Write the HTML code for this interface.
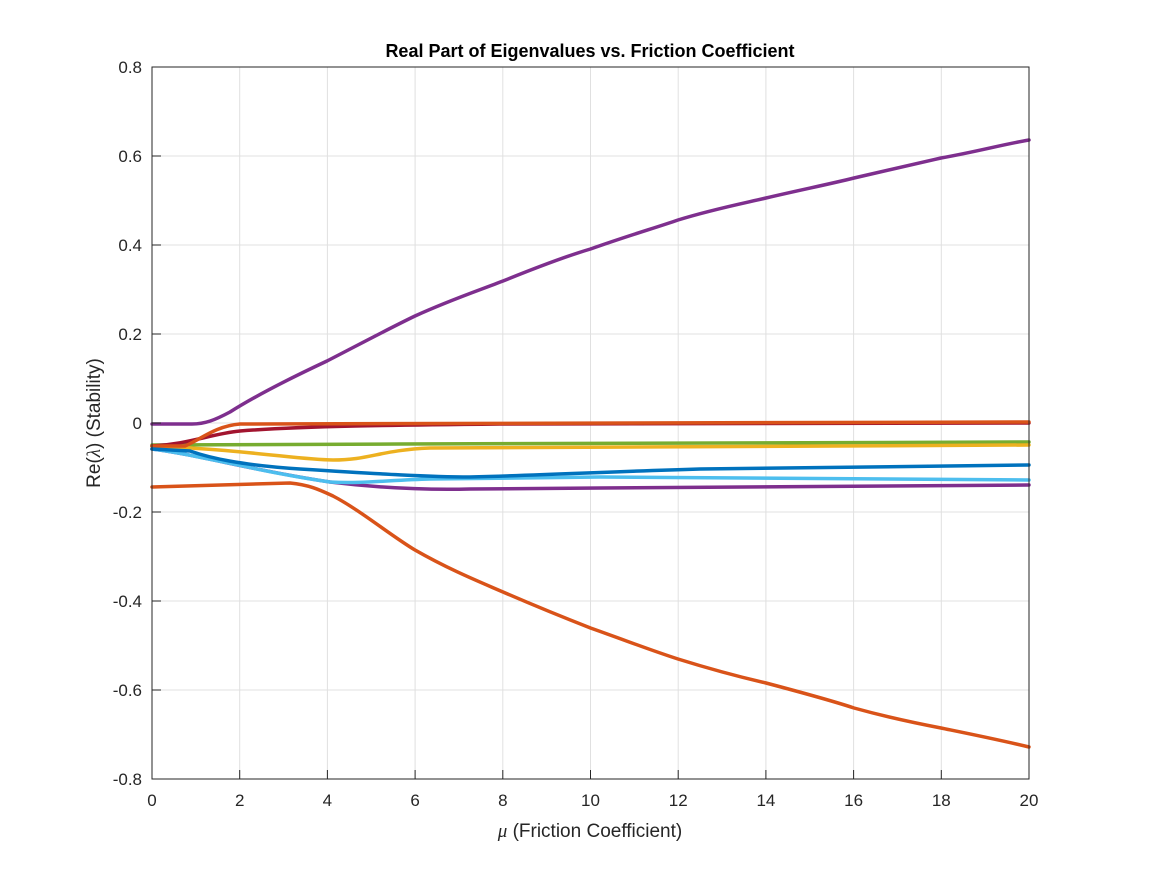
<!DOCTYPE html>
<html><head><meta charset="utf-8"><style>body{margin:0;background:#fff}</style></head><body>
<svg width="1167" height="875" xmlns="http://www.w3.org/2000/svg" font-family="Liberation Sans, sans-serif">
<rect width="1167" height="875" fill="#fff"/>
<g stroke="#e0e0e0" stroke-width="1">
<line x1="239.7" y1="67" x2="239.7" y2="779"/><line x1="327.4" y1="67" x2="327.4" y2="779"/><line x1="415.1" y1="67" x2="415.1" y2="779"/><line x1="502.8" y1="67" x2="502.8" y2="779"/><line x1="590.5" y1="67" x2="590.5" y2="779"/><line x1="678.2" y1="67" x2="678.2" y2="779"/><line x1="765.9" y1="67" x2="765.9" y2="779"/><line x1="853.6" y1="67" x2="853.6" y2="779"/><line x1="941.3" y1="67" x2="941.3" y2="779"/>
<line x1="152" y1="156" x2="1029" y2="156"/><line x1="152" y1="245" x2="1029" y2="245"/><line x1="152" y1="334" x2="1029" y2="334"/><line x1="152" y1="423" x2="1029" y2="423"/><line x1="152" y1="512" x2="1029" y2="512"/><line x1="152" y1="601" x2="1029" y2="601"/><line x1="152" y1="690" x2="1029" y2="690"/>
</g>
<g fill="none" stroke-width="3.5" stroke-linejoin="round" stroke-linecap="round">
<path stroke="#77AC30" d="M152,445 L400,444 L1029,442"/>
<path stroke="#EDB120" d="M152,446 C250,450 300,460 333,460 C370,460 380,450 430,448 L1029,445"/>
<path stroke="#A2142F" d="M152,446 C190,444 210,434 240,431 C300,426 400,425 500,424 L1029,423"/>
<path stroke="#D95319" d="M152,446 L185,446 C200,440 215,426 240,424 L1029,422"/>
<path stroke="#7E2F8E" d="M152,449 C200,455 250,470 330,482 C380,488 430,490 470,489 L600,488 L1029,485"/>
<path stroke="#4DBEEE" d="M152,449 C200,455 260,472 330,482 C360,484 390,480 430,479 L600,477 L1029,480"/>
<path stroke="#0072BD" d="M152,449 L190,451 C210,458 240,465 300,469 C380,474 430,477 470,477 C550,475 600,472 700,469 L1029,465"/>
<path stroke="#D95319" d="M152,487 L290,483 C310,485 320,490 333,496 C360,510 390,535 415,550 C450,570 480,582 503,592 C540,608 570,620 590.5,628 C630,642 650,650 678,659 C710,669 740,677 766,683 C800,692 830,700 854,708 C890,718 920,724 941,728 C980,736 1000,740 1029,747"/>
<path stroke="#7E2F8E" d="M152,424 L192,424 C205,424 215,420 230,412 C260,393 295,376 327,361 C360,344 390,328 415,316 C450,300 480,290 503,281 C540,266 570,255 590.5,249 C630,235 655,228 678,220 C710,210 740,204 766,198 C800,190 830,184 854,178 C890,170 915,164 941,158 C980,151 1000,145 1029,140"/>
</g>
<rect x="152" y="67" width="877" height="712" fill="none" stroke="#262626" stroke-width="1"/>
<g stroke="#262626" stroke-width="1">
<line x1="239.7" y1="779" x2="239.7" y2="770"/><line x1="327.4" y1="779" x2="327.4" y2="770"/><line x1="415.1" y1="779" x2="415.1" y2="770"/><line x1="502.8" y1="779" x2="502.8" y2="770"/><line x1="590.5" y1="779" x2="590.5" y2="770"/><line x1="678.2" y1="779" x2="678.2" y2="770"/><line x1="765.9" y1="779" x2="765.9" y2="770"/><line x1="853.6" y1="779" x2="853.6" y2="770"/><line x1="941.3" y1="779" x2="941.3" y2="770"/>
<line x1="152" y1="156" x2="161" y2="156"/><line x1="152" y1="245" x2="161" y2="245"/><line x1="152" y1="334" x2="161" y2="334"/><line x1="152" y1="423" x2="161" y2="423"/><line x1="152" y1="512" x2="161" y2="512"/><line x1="152" y1="601" x2="161" y2="601"/><line x1="152" y1="690" x2="161" y2="690"/>
</g>
<g font-size="17" fill="#262626" text-anchor="middle">
<text x="152" y="806">0</text><text x="239.7" y="806">2</text><text x="327.4" y="806">4</text><text x="415.1" y="806">6</text><text x="502.8" y="806">8</text><text x="590.5" y="806">10</text><text x="678.2" y="806">12</text><text x="765.9" y="806">14</text><text x="853.6" y="806">16</text><text x="941.3" y="806">18</text><text x="1029" y="806">20</text>
</g>
<g font-size="17" fill="#262626" text-anchor="end">
<text x="142" y="73">0.8</text><text x="142" y="162">0.6</text><text x="142" y="251">0.4</text><text x="142" y="340">0.2</text><text x="142" y="429">0</text><text x="142" y="518">-0.2</text><text x="142" y="607">-0.4</text><text x="142" y="696">-0.6</text><text x="142" y="785">-0.8</text>
</g>
<text x="590" y="57" font-size="18" font-weight="bold" text-anchor="middle" fill="#000">Real Part of Eigenvalues vs. Friction Coefficient</text>
<text x="590" y="837" font-size="19" text-anchor="middle" fill="#262626"><tspan font-family="Liberation Serif, serif" font-style="italic">μ</tspan> (Friction Coefficient)</text>
<text transform="translate(100,423) rotate(-90)" font-size="19" text-anchor="middle" fill="#262626">Re(<tspan font-family="Liberation Serif, serif" font-style="italic">λ</tspan>) (Stability)</text>
</svg>
</body></html>
